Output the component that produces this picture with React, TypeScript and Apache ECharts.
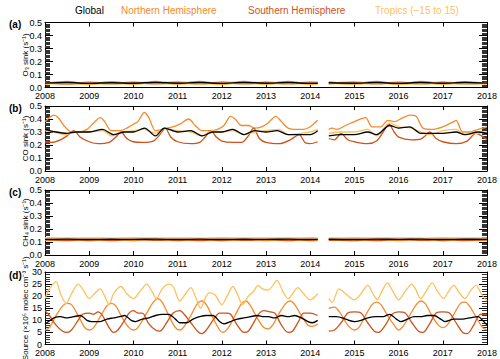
import React, { useEffect, useRef } from "react";
import * as echarts from "echarts";

const FONT = "Liberation Sans, Arial, sans-serif";
const COLORS = { Global: "#000000", NH: "#f58a2c", SH: "#d0521a", Trop: "#fdc15c" };
const legendNames = ["Global", "Northern Hemisphere", "Southern Hemisphere", "Tropics (\u221215 to 15)"];
const panelLabels = ["(a)", "(b)", "(c)", "(d)"];
const yTitles = [
  "O\u2083 sink (s\u207B\u00B9)",
  "CO sink (s\u207B\u00B9)",
  "CH\u2084 sink (s\u207B\u00B9)",
  "Source (\u00D710\u2075 molec cm\u207B\u00B3 s\u207B\u00B9)",
];

// ---- Panel (a): O3 sink ----
const aGlobal = [[2008.0,0.034],[2008.5,0.038],[2009.0,0.032],[2009.5,0.037],[2010.0,0.033],[2010.5,0.039],[2011.0,0.033],[2011.5,0.038],[2012.0,0.032],[2012.5,0.039],[2013.0,0.033],[2013.5,0.038],[2014.0,0.032],[2014.17,0.033],[2014.3,null],[2014.42,0.036],[2015.0,0.033],[2015.5,0.038],[2016.0,0.032],[2016.5,0.038],[2017.0,0.033],[2017.5,0.038],[2018.0,0.034]];
const aNH = [[2008.0,0.029],[2008.5,0.044],[2009.0,0.027],[2009.5,0.043],[2010.0,0.028],[2010.5,0.045],[2011.0,0.028],[2011.5,0.044],[2012.0,0.027],[2012.5,0.045],[2013.0,0.028],[2013.5,0.044],[2014.0,0.027],[2014.17,0.030],[2014.3,null],[2014.42,0.041],[2015.0,0.028],[2015.5,0.044],[2016.0,0.027],[2016.5,0.044],[2017.0,0.028],[2017.5,0.043],[2018.0,0.030]];
const aSH = [[2008.0,0.039],[2008.5,0.029],[2009.0,0.038],[2009.5,0.030],[2010.0,0.039],[2010.5,0.031],[2011.0,0.038],[2011.5,0.030],[2012.0,0.038],[2012.5,0.031],[2013.0,0.039],[2013.5,0.030],[2014.0,0.038],[2014.17,0.037],[2014.3,null],[2014.42,0.030],[2015.0,0.038],[2015.5,0.030],[2016.0,0.039],[2016.5,0.030],[2017.0,0.038],[2017.5,0.030],[2018.0,0.037]];
const aTrop = [[2008.0,0.031],[2008.5,0.033],[2009.0,0.030],[2009.5,0.032],[2010.0,0.031],[2010.5,0.033],[2011.0,0.030],[2011.5,0.032],[2012.0,0.031],[2012.5,0.033],[2013.0,0.030],[2013.5,0.032],[2014.0,0.031],[2014.17,0.032],[2014.3,null],[2014.42,0.032],[2015.0,0.030],[2015.5,0.033],[2016.0,0.031],[2016.5,0.032],[2017.0,0.030],[2017.5,0.032],[2018.0,0.031]];

// ---- Panel (b): CO sink ----
const bNH = [[2008.0,0.38],[2008.1,0.41],[2008.2,0.43],[2008.3,0.41],[2008.45,0.34],[2008.6,0.30],[2008.8,0.30],[2008.95,0.32],[2009.1,0.37],[2009.25,0.41],[2009.35,0.38],[2009.5,0.31],[2009.7,0.31],[2009.85,0.33],[2010.0,0.36],[2010.1,0.38],[2010.25,0.45],[2010.35,0.41],[2010.5,0.31],[2010.65,0.32],[2010.75,0.33],[2010.9,0.34],[2011.05,0.36],[2011.25,0.40],[2011.4,0.35],[2011.55,0.31],[2011.75,0.31],[2011.9,0.32],[2012.05,0.35],[2012.2,0.42],[2012.3,0.40],[2012.45,0.35],[2012.6,0.35],[2012.75,0.33],[2012.9,0.34],[2013.05,0.37],[2013.22,0.42],[2013.35,0.38],[2013.5,0.33],[2013.7,0.32],[2013.85,0.32],[2014.0,0.34],[2014.17,0.39],[2014.3,null],[2014.42,0.32],[2014.5,0.33],[2014.6,0.32],[2014.8,0.35],[2015.0,0.38],[2015.25,0.41],[2015.4,0.34],[2015.6,0.34],[2015.75,0.39],[2015.9,0.38],[2016.1,0.41],[2016.25,0.43],[2016.4,0.42],[2016.55,0.33],[2016.75,0.32],[2017.0,0.34],[2017.25,0.38],[2017.3,0.39],[2017.45,0.30],[2017.6,0.30],[2017.8,0.32],[2018.0,0.34]];
const bSH = [[2008.0,0.225],[2008.15,0.22],[2008.35,0.24],[2008.5,0.27],[2008.65,0.31],[2008.8,0.26],[2009.0,0.225],[2009.2,0.21],[2009.45,0.22],[2009.6,0.26],[2009.72,0.30],[2009.85,0.25],[2010.0,0.225],[2010.2,0.22],[2010.45,0.23],[2010.6,0.28],[2010.72,0.33],[2010.85,0.26],[2011.0,0.225],[2011.3,0.21],[2011.5,0.22],[2011.62,0.26],[2011.75,0.31],[2011.88,0.26],[2012.0,0.23],[2012.25,0.22],[2012.45,0.22],[2012.6,0.27],[2012.72,0.33],[2012.85,0.25],[2013.0,0.22],[2013.3,0.21],[2013.55,0.24],[2013.75,0.28],[2013.88,0.22],[2014.0,0.21],[2014.17,0.225],[2014.3,null],[2014.42,0.25],[2014.55,0.24],[2014.7,0.29],[2014.85,0.24],[2015.0,0.225],[2015.3,0.21],[2015.5,0.23],[2015.65,0.30],[2015.78,0.36],[2015.9,0.30],[2016.0,0.26],[2016.3,0.24],[2016.5,0.245],[2016.6,0.27],[2016.7,0.30],[2016.85,0.25],[2017.0,0.225],[2017.3,0.21],[2017.55,0.23],[2017.75,0.29],[2017.88,0.27],[2018.0,0.24]];
const bTrop = [[2008.0,0.31],[2008.2,0.30],[2008.45,0.28],[2008.7,0.30],[2009.0,0.30],[2009.3,0.31],[2009.5,0.27],[2009.75,0.30],[2010.0,0.31],[2010.25,0.32],[2010.5,0.29],[2010.7,0.33],[2011.0,0.31],[2011.3,0.30],[2011.55,0.27],[2011.8,0.31],[2012.0,0.30],[2012.25,0.31],[2012.5,0.28],[2012.75,0.30],[2013.0,0.31],[2013.3,0.32],[2013.5,0.28],[2013.8,0.29],[2014.0,0.30],[2014.17,0.32],[2014.3,null],[2014.42,0.29],[2014.7,0.30],[2015.0,0.30],[2015.3,0.32],[2015.5,0.27],[2015.8,0.37],[2016.0,0.34],[2016.3,0.33],[2016.5,0.30],[2016.7,0.28],[2017.0,0.31],[2017.3,0.32],[2017.5,0.28],[2017.8,0.29],[2018.0,0.30]];
const bGlobal = [[2008.0,0.32],[2008.25,0.30],[2008.5,0.29],[2008.7,0.30],[2009.0,0.30],[2009.3,0.32],[2009.55,0.28],[2009.8,0.30],[2010.0,0.30],[2010.25,0.33],[2010.5,0.27],[2010.7,0.33],[2011.0,0.30],[2011.3,0.31],[2011.55,0.27],[2011.8,0.30],[2012.0,0.30],[2012.25,0.32],[2012.5,0.28],[2012.75,0.31],[2013.0,0.30],[2013.25,0.31],[2013.5,0.28],[2013.75,0.28],[2014.0,0.28],[2014.17,0.31],[2014.3,null],[2014.42,0.27],[2014.7,0.28],[2015.0,0.28],[2015.3,0.30],[2015.5,0.28],[2015.8,0.35],[2016.0,0.33],[2016.25,0.34],[2016.5,0.29],[2016.7,0.29],[2017.0,0.29],[2017.3,0.30],[2017.5,0.28],[2017.8,0.30],[2018.0,0.29]];

// ---- Panel (c): CH4 sink ----
const cGlobal = [[2008.0,0.120],[2008.5,0.122],[2009.0,0.119],[2009.5,0.121],[2010.0,0.120],[2010.5,0.122],[2011.0,0.119],[2011.5,0.122],[2012.0,0.119],[2012.5,0.121],[2013.0,0.120],[2013.5,0.122],[2014.0,0.119],[2014.17,0.120],[2014.3,null],[2014.42,0.121],[2015.0,0.119],[2015.5,0.122],[2016.0,0.120],[2016.5,0.122],[2017.0,0.119],[2017.5,0.121],[2018.0,0.120]];
const cNH = [[2008.0,0.113],[2008.5,0.124],[2009.0,0.112],[2009.5,0.124],[2010.0,0.113],[2010.5,0.125],[2011.0,0.112],[2011.5,0.124],[2012.0,0.112],[2012.5,0.124],[2013.0,0.113],[2013.5,0.125],[2014.0,0.112],[2014.17,0.114],[2014.3,null],[2014.42,0.122],[2015.0,0.112],[2015.5,0.124],[2016.0,0.113],[2016.5,0.125],[2017.0,0.112],[2017.5,0.124],[2018.0,0.114]];
const cSH = [[2008.0,0.122],[2008.5,0.114],[2009.0,0.121],[2009.5,0.114],[2010.0,0.122],[2010.5,0.115],[2011.0,0.121],[2011.5,0.114],[2012.0,0.122],[2012.5,0.115],[2013.0,0.121],[2013.5,0.114],[2014.0,0.122],[2014.17,0.121],[2014.3,null],[2014.42,0.115],[2015.0,0.121],[2015.5,0.114],[2016.0,0.122],[2016.5,0.115],[2017.0,0.121],[2017.5,0.114],[2018.0,0.121]];
const cTrop = [[2008.0,0.130],[2008.5,0.128],[2009.0,0.129],[2009.5,0.127],[2010.0,0.130],[2010.5,0.128],[2011.0,0.129],[2011.5,0.127],[2012.0,0.130],[2012.5,0.128],[2013.0,0.129],[2013.5,0.128],[2014.0,0.130],[2014.17,0.129],[2014.3,null],[2014.42,0.128],[2015.0,0.130],[2015.5,0.128],[2016.0,0.129],[2016.5,0.127],[2017.0,0.130],[2017.5,0.128],[2018.0,0.129]];

// ---- Panel (d): OH source ----
const dTrop = [[2008.0,19],[2008.1,23],[2008.25,26],[2008.35,21],[2008.48,17],[2008.6,21],[2008.75,25],[2008.85,23],[2009.0,19],[2009.12,21],[2009.25,23],[2009.35,20],[2009.45,16.5],[2009.55,21],[2009.72,24],[2009.85,21],[2010.0,19],[2010.15,22],[2010.3,25],[2010.42,22],[2010.52,19],[2010.65,23],[2010.8,25],[2010.9,24],[2011.05,18],[2011.18,21],[2011.3,23.5],[2011.42,19],[2011.52,15],[2011.62,19],[2011.72,21.5],[2011.85,20.5],[2012.0,16.5],[2012.12,20],[2012.25,24],[2012.35,21],[2012.47,16.5],[2012.6,20],[2012.72,22],[2012.82,24.5],[2012.92,23],[2013.05,22.5],[2013.25,26.5],[2013.38,22],[2013.5,19],[2013.6,21],[2013.72,23.5],[2013.85,21],[2014.0,18.5],[2014.17,21],[2014.3,null],[2014.42,19],[2014.5,17.5],[2014.65,23],[2014.8,21],[2015.0,18.5],[2015.15,21],[2015.3,24.5],[2015.42,21],[2015.52,18.5],[2015.62,22],[2015.75,25.5],[2015.87,22],[2016.0,18.5],[2016.15,22],[2016.3,25],[2016.38,23],[2016.5,19],[2016.62,22],[2016.76,25.5],[2016.88,22],[2017.02,19],[2017.13,22],[2017.25,24.5],[2017.37,21.5],[2017.5,19],[2017.62,22],[2017.75,24.5],[2017.87,21],[2018.0,18]];
const dNH = [[2008.0,6],[2008.1,7],[2008.25,12],[2008.4,16],[2008.5,17],[2008.6,16.5],[2008.75,12],[2008.9,7],[2009.0,6],[2009.1,7],[2009.25,11.5],[2009.4,16],[2009.5,17],[2009.6,16],[2009.75,11],[2009.9,7],[2010.0,6],[2010.1,7],[2010.3,13],[2010.45,17.5],[2010.55,19],[2010.65,17.5],[2010.8,12],[2010.95,7],[2011.05,6],[2011.15,7.5],[2011.3,12],[2011.45,17],[2011.55,18],[2011.65,16.5],[2011.8,11],[2011.95,6],[2012.02,5],[2012.15,7],[2012.3,12],[2012.45,17],[2012.55,18],[2012.65,16],[2012.8,11],[2012.95,7],[2013.05,6.5],[2013.15,8],[2013.3,13],[2013.45,17],[2013.55,18],[2013.65,16.5],[2013.8,12],[2013.95,8],[2014.05,7.5],[2014.17,8.5],[2014.3,null],[2014.42,15],[2014.55,15.5],[2014.7,12.5],[2014.85,8],[2015.0,6],[2015.1,7],[2015.25,12],[2015.4,16.5],[2015.5,17.5],[2015.6,16.5],[2015.75,12],[2015.9,8],[2016.0,6],[2016.1,7.5],[2016.25,12],[2016.4,16.5],[2016.5,18],[2016.6,17],[2016.75,12],[2016.9,8],[2017.0,7],[2017.1,8],[2017.25,12.5],[2017.4,17],[2017.5,17.5],[2017.6,16],[2017.75,11.5],[2017.9,7],[2018.0,6]];
const dSH = [[2008.0,14],[2008.1,12],[2008.25,8],[2008.4,5.5],[2008.5,5],[2008.6,6],[2008.75,10],[2008.85,12.5],[2009.0,13],[2009.1,12.5],[2009.2,13.5],[2009.3,12],[2009.45,7],[2009.55,5],[2009.65,6],[2009.8,10],[2009.9,13],[2010.0,14],[2010.1,13],[2010.2,13],[2010.35,8.5],[2010.5,6],[2010.6,5.5],[2010.75,9],[2010.9,13],[2011.05,14],[2011.15,12.5],[2011.3,9],[2011.45,5.5],[2011.55,4.5],[2011.65,6],[2011.8,10],[2011.95,13],[2012.1,13],[2012.2,12.5],[2012.35,8],[2012.5,5],[2012.6,5.5],[2012.75,10],[2012.85,13],[2012.95,14],[2013.1,13.5],[2013.2,13],[2013.35,8],[2013.5,5],[2013.6,5.5],[2013.75,10],[2013.85,13],[2014.0,13],[2014.17,12],[2014.3,null],[2014.42,5.5],[2014.55,6],[2014.7,9],[2014.85,13],[2015.0,13.5],[2015.15,13],[2015.3,9],[2015.45,5.5],[2015.55,5],[2015.7,8],[2015.85,12.5],[2016.0,13.5],[2016.15,13],[2016.3,9],[2016.45,5.5],[2016.55,5],[2016.7,8.5],[2016.85,13],[2017.0,13.5],[2017.15,13],[2017.3,9],[2017.45,5],[2017.55,4.5],[2017.7,8],[2017.85,12.5],[2018.0,12.5]];
const dGlobal = [[2008.0,8.5],[2008.08,9.5],[2008.2,11],[2008.35,11.5],[2008.5,11],[2008.65,11.5],[2008.8,12],[2008.95,10],[2009.05,9.5],[2009.25,9.5],[2009.4,10.5],[2009.55,11],[2009.7,11.5],[2009.8,12],[2009.95,10],[2010.05,9.5],[2010.2,10.5],[2010.35,11],[2010.5,12],[2010.65,12.5],[2010.8,12.5],[2010.95,10.5],[2011.05,9],[2011.2,9],[2011.35,10.5],[2011.5,11.5],[2011.65,12],[2011.8,12],[2011.95,9.5],[2012.05,8.5],[2012.2,9.5],[2012.35,10.5],[2012.5,11],[2012.65,11.5],[2012.8,12],[2012.95,11.5],[2013.05,11.5],[2013.2,11],[2013.35,12],[2013.5,11.5],[2013.65,12],[2013.8,11],[2013.95,9.5],[2014.05,9],[2014.17,10],[2014.3,null],[2014.42,11.5],[2014.6,11.5],[2014.8,10.5],[2015.0,9.5],[2015.15,10],[2015.3,11],[2015.5,11.5],[2015.65,11.5],[2015.8,12.5],[2015.95,10.5],[2016.05,9.5],[2016.2,10.5],[2016.35,11.5],[2016.5,11.5],[2016.65,12],[2016.8,12],[2016.95,10.5],[2017.05,9.5],[2017.25,10.5],[2017.45,10.5],[2017.6,11],[2017.8,11.5],[2017.9,10],[2018.0,8]];

const panelData = [
  { Global: aGlobal, NH: aNH, SH: aSH, Trop: aTrop },
  { Global: bGlobal, NH: bNH, SH: bSH, Trop: bTrop },
  { Global: cGlobal, NH: cNH, SH: cSH, Trop: cTrop },
  { Global: dGlobal, NH: dNH, SH: dSH, Trop: dTrop },
];
const yRanges = [
  { min: 0, max: 0.5, interval: 0.1, minor: 10, dec: 1 },
  { min: 0, max: 0.5, interval: 0.1, minor: 10, dec: 1 },
  { min: 0, max: 0.5, interval: 0.1, minor: 10, dec: 1 },
  { min: 0, max: 30, interval: 5, minor: 5, dec: 0 },
];
const gridBoxes = [
  { top: 22.5, height: 65 },
  { top: 106, height: 65 },
  { top: 190, height: 65 },
  { top: 272, height: 72.5 },
];
const panelLabelY = [25, 109, 193, 276];

export default function App() {
  const ref = useRef<HTMLDivElement>(null);
  useEffect(() => {
    if (!ref.current) return;
    const chart = echarts.init(ref.current, undefined, { renderer: "svg" });
    const black = "#000";
    const grid = gridBoxes.map((g) => ({ left: 45, right: 11.5, top: g.top, height: g.height }));
    const xAxis: any[] = [];
    const yAxis: any[] = [];
    const series: any[] = [];
    const graphic: any[] = [];
    gridBoxes.forEach((g, i) => {
      const xBase = {
        gridIndex: i,
        type: "value",
        min: 2008,
        max: 2018,
        interval: 1,
        axisLine: { show: true, onZero: false, lineStyle: { color: black, width: 1 } },
        axisTick: { show: true, inside: true, length: 4, lineStyle: { color: black, width: 1 } },
        splitLine: { show: false },
      };
      xAxis.push({
        ...xBase,
        position: "bottom",
        axisLabel: {
          color: black, fontSize: 9, fontFamily: FONT, margin: 4,
          showMinLabel: true, showMaxLabel: true,
          formatter: (v: number) => String(v),
        },
      });
      xAxis.push({ ...xBase, position: "top", axisLabel: { show: false } });
      const r = yRanges[i];
      const yBase = {
        gridIndex: i,
        type: "value",
        min: r.min,
        max: r.max,
        interval: r.interval,
        axisLine: { show: true, onZero: false, lineStyle: { color: black, width: 1 } },
        axisTick: { show: true, inside: true, length: 8, lineStyle: { color: black, width: 1 } },
        minorTick: { show: true, splitNumber: r.minor, length: 5, lineStyle: { color: "#333", width: 1 } },
        splitLine: { show: false },
        minorSplitLine: { show: false },
      };
      yAxis.push({
        ...yBase,
        position: "left",
        axisLabel: {
          color: black, fontSize: 9, fontFamily: FONT, margin: 3,
          showMinLabel: true, showMaxLabel: true,
          formatter: (v: number) => v.toFixed(r.dec),
        },
      });
      yAxis.push({ ...yBase, position: "right", axisLabel: { show: false } });
      const d = panelData[i];
      const order: [string, string][] = [["NH", legendNames[1]], ["SH", legendNames[2]], ["Trop", legendNames[3]], ["Global", legendNames[0]]];
      const flat = i === 0 || i === 2;
      order.forEach(([k, name]) => {
        series.push({
          type: "line",
          name,
          xAxisIndex: i * 2,
          yAxisIndex: i * 2,
          data: (d as any)[k],
          showSymbol: false,
          smooth: 0.3,
          connectNulls: false,
          lineStyle: { color: (COLORS as any)[k], width: flat ? (k === "Global" ? 1.4 : 2) : 1.3 },
          itemStyle: { color: (COLORS as any)[k] },
        });
      });
      graphic.push({
        type: "text",
        x: 25.5,
        y: g.top + g.height / 2,
        rotation: Math.PI / 2,
        style: { text: yTitles[i], fill: black, fontSize: 8, fontFamily: FONT, align: "center", verticalAlign: "middle" },
      });
    });
    const legendX = [75, 121, 248, 375];
    const legendCol = [COLORS.Global, COLORS.NH, COLORS.SH, COLORS.Trop];
    legendNames.forEach((n, i) => {
      graphic.push({
        type: "text", left: legendX[i], top: 5,
        style: { text: n, fill: legendCol[i], fontSize: 10, fontFamily: FONT },
      });
    });
    panelLabels.forEach((t, i) => {
      graphic.push({
        type: "text", left: 9, top: panelLabelY[i] - 6,
        style: { text: t, fill: black, fontSize: 10, fontWeight: "bold", fontFamily: FONT },
      });
    });
    chart.setOption({ animation: false, grid, xAxis, yAxis, series, graphic });
    return () => chart.dispose();
  }, []);
  return <div ref={ref} style={{ position: "absolute", left: 0, top: 0, width: 500, height: 359, background: "#fff" }} />;
}
